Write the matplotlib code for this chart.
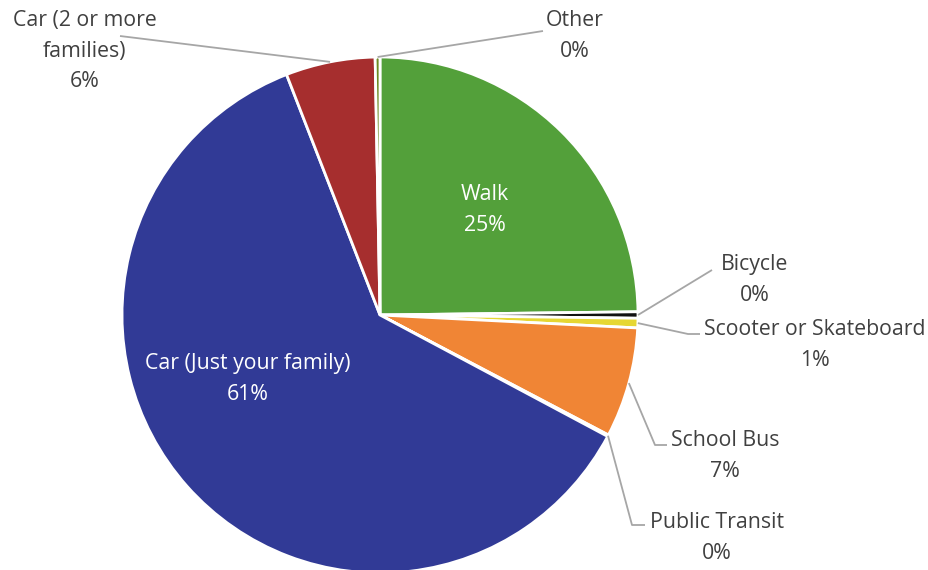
import numpy as np
import matplotlib.pyplot as plt

labels = ['Walk', 'Bicycle', 'Scooter or Skateboard', 'School Bus',
          'Public Transit', 'Car (Just your family)',
          'Car (2 or more\nfamilies)', 'Other']
shares = [24.8, 0.4, 0.6, 6.9, 0.1, 61.3, 5.6, 0.3]
colors = ['#53a03a', '#111111', '#e6d733', '#f08535',
          '#8c8c8c', '#313a96', '#a62e2e', '#6e8b22']

plt.rcParams['font.family'] = ['Open Sans', 'DejaVu Sans']

fig = plt.figure(figsize=(9.29, 5.70), dpi=100)
ax = fig.add_axes([0, 0, 1, 1])

cx, cy, r = 380, 255, 258
wedges, _ = ax.pie(shares, colors=colors, startangle=90, counterclock=False,
                   center=(cx, cy), radius=r, frame=True,
                   wedgeprops=dict(edgecolor='white', linewidth=2))
ax.set_xlim(0, 929)
ax.set_ylim(0, 570)
ax.set_aspect('equal')
ax.axis('off')

txt = '#404040'
lc = '#a6a6a6'
fs = 15.3
ls = 1.58

def edge(i):
    w = wedges[i]
    a = np.deg2rad((w.theta1 + w.theta2) / 2)
    return cx + r * np.cos(a), cy + r * np.sin(a)

# labels inside the two big slices
ax.text(485, 570 - 210, f'{labels[0]}\n{shares[0]:.0f}%', color='white',
        ha='center', va='center', fontsize=fs, linespacing=ls)
ax.text(248, 570 - 379, f'{labels[5]}\n{shares[5]:.0f}%', color='white',
        ha='center', va='center', fontsize=fs, linespacing=ls)

# outside labels: (index, leader path points, text position)
outside = [
    (6, [(120, 570 - 36)], (85, 570 - 51)),
    (7, [(543, 570 - 31)], (575, 570 - 36)),
    (1, [(712, 570 - 270)], (755, 570 - 280)),
    (2, [(688, 570 - 334), (700, 570 - 334)], (815, 570 - 345)),
    (3, [(655, 570 - 445), (667, 570 - 445)], (725, 570 - 456)),
    (4, [(632, 570 - 525), (645, 570 - 525)], (717, 570 - 538)),
]
for i, path, pos in outside:
    x0, y0 = edge(i)
    xs = [x0] + [p[0] for p in path]
    ys = [y0] + [p[1] for p in path]
    ax.plot(xs, ys, color=lc, linewidth=1.3, solid_capstyle='butt')
    ax.text(pos[0], pos[1], f'{labels[i]}\n{round(shares[i]):.0f}%', color=txt,
            ha='center', va='center', fontsize=fs, linespacing=ls)

fig.savefig('out.png', dpi=100)
